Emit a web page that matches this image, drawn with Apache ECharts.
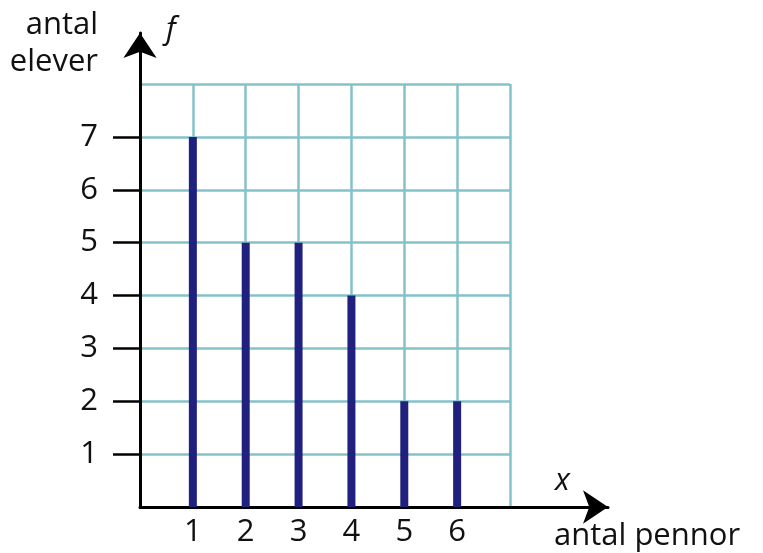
<!DOCTYPE html>
<html>
<head>
<meta charset="utf-8">
<script src="https://cdn.jsdelivr.net/npm/echarts@6/dist/echarts.min.js"></script>
<style>
  html, body { margin: 0; padding: 0; background: #ffffff; }
  #chart { width: 763px; height: 553px; }
</style>
</head>
<body>
<div id="chart"></div>
<script>
// antal pennor (x) och antal elever (f)
var pennor = [1, 2, 3, 4, 5, 6]
var elever = [7, 5, 5, 4, 2, 2]
var xTicks = [1, 2, 3, 4, 5, 6]
var yTicks = [1, 2, 3, 4, 5, 6, 7]

var font = '"Open Sans"'
var fontSize = 31
var gridColor = '#84c2ca'
var barColor = '#20207f'

var chart = echarts.init(document.getElementById('chart'))
chart.setOption({
  backgroundColor: '#ffffff',
  animation: false,
  grid: [
    // rutnätet
    { left: 140, right: 253, top: 84, bottom: 46 },
    // axlar med pilar
    { left: 140, right: 155, top: 33, bottom: 46 }
  ],
  xAxis: [
    {
      type: 'value',
      gridIndex: 0,
      min: 0,
      max: 7,
      interval: 1,
      axisLine: { show: false },
      axisTick: { show: false },
      splitLine: { show: true, lineStyle: { color: gridColor, width: 2.5 } },
      axisLabel: {
        customValues: xTicks,
        color: '#111',
        fontFamily: font,
        fontSize: fontSize,
        margin: 10
      }
    },
    {
      type: 'value',
      gridIndex: 1,
      min: 0,
      max: 1,
      axisLine: {
        show: true,
        symbol: ['none', 'arrow'],
        symbolSize: [25, 25],
        lineStyle: { color: '#000', width: 3 }
      },
      axisTick: { show: false },
      axisLabel: { show: false },
      splitLine: { show: false }
    }
  ],
  yAxis: [
    {
      // bara rutnätet
      type: 'value',
      gridIndex: 0,
      position: 'left',
      min: 0,
      max: 8,
      interval: 1,
      axisLine: { show: false },
      axisTick: { show: false },
      axisLabel: { show: false },
      splitLine: { show: true, lineStyle: { color: gridColor, width: 2.5 } }
    },
    {
      type: 'value',
      gridIndex: 1,
      position: 'left',
      min: 0,
      max: 1,
      axisLine: {
        show: true,
        symbol: ['none', 'arrow'],
        symbolSize: [25, 25],
        lineStyle: { color: '#000', width: 3 }
      },
      axisTick: { show: false },
      axisLabel: { show: false },
      splitLine: { show: false }
    },
    {
      // skalstreck och siffror
      type: 'value',
      gridIndex: 0,
      position: 'left',
      offset: 0,
      min: 0,
      max: 8,
      interval: 1,
      axisLine: { show: false },
      axisTick: {
        show: true,
        customValues: yTicks,
        length: 27,
        lineStyle: { color: '#000', width: 2.5 }
      },
      splitLine: { show: false },
      axisLabel: {
        customValues: yTicks,
        color: '#111',
        fontFamily: font,
        fontSize: fontSize,
        margin: 42
      }
    }
  ],
  graphic: [
    { type: 'text', x: 98, y: 10, style: { text: 'antal', font: fontSize + 'px ' + font, fill: '#111', align: 'right' } },
    { type: 'text', x: 98, y: 47, style: { text: 'elever', font: fontSize + 'px ' + font, fill: '#111', align: 'right' } },
    { type: 'text', x: 166, y: 15, style: { text: 'f', font: 'italic ' + fontSize + 'px ' + font, fill: '#111' } },
    { type: 'text', x: 555, y: 466, style: { text: 'x', font: 'italic ' + fontSize + 'px ' + font, fill: '#111' } },
    { type: 'text', x: 554, y: 521, style: { text: 'antal pennor', font: fontSize + 'px ' + font, fill: '#111' } }
  ],
  series: [
    {
      type: 'bar',
      xAxisIndex: 0,
      yAxisIndex: 0,
      barWidth: 8,
      itemStyle: { color: barColor },
      data: pennor.map(function (p, i) { return [p, elever[i]] })
    }
  ]
})
</script>
</body>
</html>
